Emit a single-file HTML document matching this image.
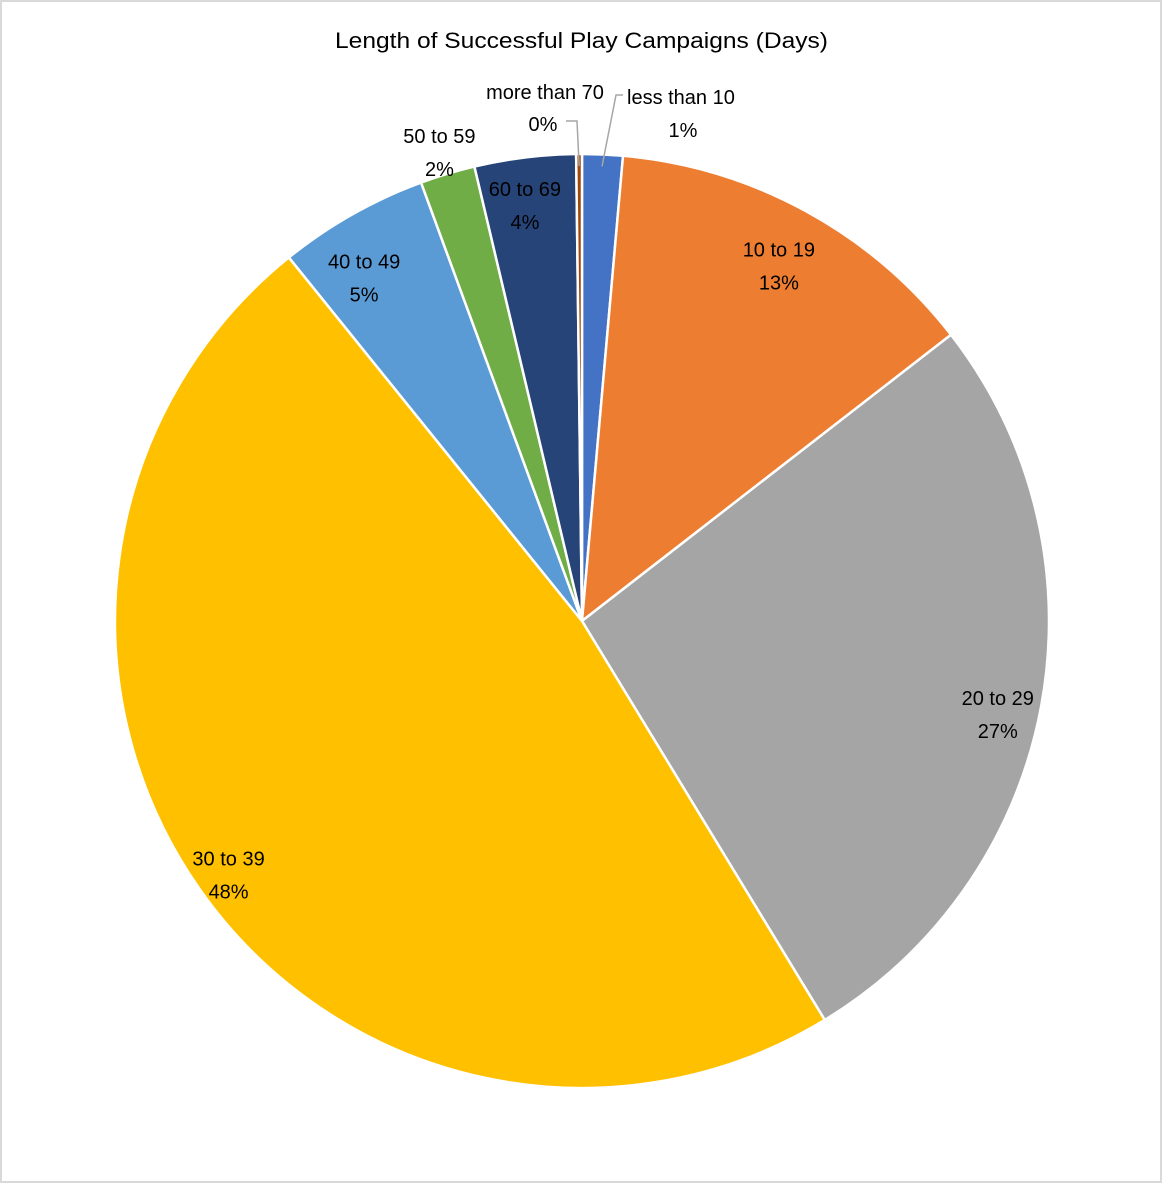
<!DOCTYPE html>
<html><head><meta charset="utf-8"><style>
html,body{margin:0;padding:0;background:#fff;}
#chart{position:relative;width:1162px;height:1183px;box-sizing:border-box;border:2px solid #d9d9d9;background:#fff;}
svg{position:absolute;left:-2px;top:-2px;}
text{font-family:"Liberation Sans",Arial,sans-serif;fill:#000;}
</style></head><body>
<div id="chart">
<svg id="svg" width="1162" height="1183">
<text x="335" y="48" font-size="22" textLength="493" lengthAdjust="spacingAndGlyphs">Length of Successful Play Campaigns (Days)</text>
</svg>
</div>
<script>
const categories = ["less than 10","10 to 19","20 to 29","30 to 39","40 to 49","50 to 59","60 to 69","more than 70"];
const values = [1.4, 13.1, 26.8, 47.9, 5.2, 1.9, 3.5, 0.2];
const colors = ["#4472C4","#ED7D31","#A5A5A5","#FFC000","#5B9BD5","#70AD47","#264478","#9E480E"];
// label layout: radial factor for inside labels; null = outside with fixed placement
const labelK = [null, 0.88, 0.91, 0.925, 0.88, 1.06, 0.91, null];
const labelDA = [0, 0, 1.5, 0, -2.5, 0, -0.7, 0];

const cx = 582, cy = 621, R = 467;
const svg = document.getElementById('svg');
const NS = 'http://www.w3.org/2000/svg';
const total = values.reduce((a,b)=>a+b,0);
function pt(angDeg, r){ const a = angDeg*Math.PI/180; return [cx + r*Math.sin(a), cy - r*Math.cos(a)]; }

let start = 0;
const mids = [];
const g = document.createElementNS(NS,'g');


svg.appendChild(g);
values.forEach((v,i)=>{
  const sweep = v/total*360;
  const end = start + sweep;
  const [x1,y1] = pt(start,R), [x2,y2] = pt(end,R);
  const p = document.createElementNS(NS,'path');
  p.setAttribute('d',`M${cx},${cy} L${x1},${y1} A${R},${R} 0 ${sweep>180?1:0} 1 ${x2},${y2} Z`);
  p.setAttribute('fill',colors[i]);
  p.setAttribute('stroke','#fff');
  p.setAttribute('stroke-width','2.5');
  
  
  g.appendChild(p);
  mids.push(start + sweep/2);
  start = end;
});

function addLabel(x,y,cat,pct,anchor,name){
  const t = document.createElementNS(NS,'text');
  t.setAttribute('font-size','20');
  t.setAttribute('text-anchor',anchor||'middle');
  
  
  const a = document.createElementNS(NS,'tspan');
  a.setAttribute('x',x); a.setAttribute('y',y); a.textContent = cat;
  const b = document.createElementNS(NS,'tspan');
  b.setAttribute('x',x); b.setAttribute('y',y+33); b.textContent = pct;
  t.appendChild(a); t.appendChild(b);
  svg.appendChild(t);
}
values.forEach((v,i)=>{
  const pct = Math.round(v/total*100)+'%';
  const name = 'label-'+categories[i].replace(/ /g,'-');
  if(labelK[i]!==null){
    const [x,y] = pt(mids[i]+labelDA[i], R*labelK[i]);
    addLabel(x, y-4, categories[i], pct, 'middle', name);
  }
});
function addText(x,y,txt,anchor,name){
  const t = document.createElementNS(NS,'text');
  t.setAttribute('font-size','20'); t.setAttribute('x',x); t.setAttribute('y',y);
  t.setAttribute('text-anchor',anchor);
  
  
  t.textContent = txt; svg.appendChild(t);
}
addText(627,104,categories[0],'start','label-less-than-10');
addText(683,137,Math.round(values[0]/total*100)+'%','middle','label-less-than-10-pct');
addText(545,99,categories[7],'middle','label-more-than-70');
addText(543,131,Math.round(values[7]/total*100)+'%','middle','label-more-than-70-pct');

const [lx,ly] = pt(mids[0], R-12);
const l1 = document.createElementNS(NS,'polyline');
l1.setAttribute('points',`${lx},${ly} 616,95 623,95`);
l1.setAttribute('fill','none'); l1.setAttribute('stroke','#a6a6a6'); l1.setAttribute('stroke-width','1.5');


svg.appendChild(l1);
const [mx,my] = pt(mids[7], R-12);
const l2 = document.createElementNS(NS,'polyline');
l2.setAttribute('points',`${mx},${my} 577,121 566,121`);
l2.setAttribute('fill','none'); l2.setAttribute('stroke','#a6a6a6'); l2.setAttribute('stroke-width','1.5');


svg.appendChild(l2);
</script>
</body></html>
